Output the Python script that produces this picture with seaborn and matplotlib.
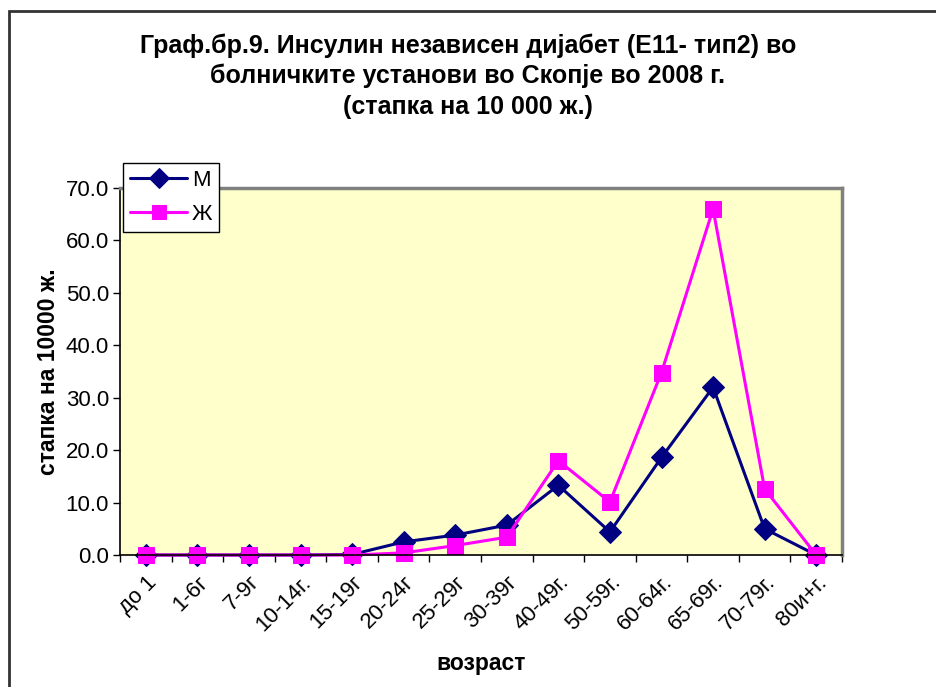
import matplotlib
matplotlib.use("Agg")
import matplotlib.pyplot as plt
from matplotlib.patches import Rectangle
from matplotlib.ticker import FixedLocator
import seaborn as sns
import pandas as pd

categories = ["до 1", "1-6г", "7-9г", "10-14г.", "15-19г", "20-24г", "25-29г",
              "30-39г", "40-49г.", "50-59г.", "60-64г.", "65-69г.", "70-79г.", "80и+г."]
male = [0.0, 0.0, 0.0, 0.0, 0.1, 2.5, 3.8, 5.7, 13.3, 4.4, 18.6, 32.0, 5.0, 0.0]
female = [0.0, 0.0, 0.0, 0.0, 0.0, 0.4, 1.8, 3.4, 18.0, 10.1, 34.8, 66.0, 12.6, 0.0]
series_names = ["М", "Ж"]
yticks = [0, 10, 20, 30, 40, 50, 60, 70]

df = pd.DataFrame({"age": categories * 2,
                   "val": male + female,
                   "sex": [series_names[0]] * len(categories) + [series_names[1]] * len(categories)})

sns.set_theme(style="white")
plt.rcParams["font.family"] = ["Liberation Sans", "DejaVu Sans"]
plt.rcParams["text.color"] = "black"
plt.rcParams["axes.labelcolor"] = "black"
plt.rcParams["xtick.color"] = "black"
plt.rcParams["ytick.color"] = "black"

fig = plt.figure(figsize=(9.36, 6.87), dpi=100)
ax = fig.add_axes([120/936, 1-555/687, (842-120)/936, (555-188)/687])
ax.set_facecolor("#FFFFCC")

sns.lineplot(data=df[df.sex == series_names[0]], x="age", y="val", sort=False, ax=ax,
             color="#000080", marker="D", markersize=11, lw=2.2, label=series_names[0],
             markeredgecolor="#000080", clip_on=False)
sns.lineplot(data=df[df.sex == series_names[1]], x="age", y="val", sort=False, ax=ax,
             color="#FF00FF", marker="s", markersize=11, lw=2.2, label=series_names[1],
             markeredgecolor="#FF00FF", clip_on=False)

ax.set_xlim(-0.5, len(categories) - 0.5)
ax.set_ylim(0, 70)
ax.set_yticks(yticks)
ax.set_yticklabels([f"{v:.1f}" for v in yticks], fontsize=16)
ax.set_xticks(range(len(categories)))
ax.set_xticklabels(categories, rotation=45, ha="right", rotation_mode="anchor", fontsize=16)
ax.tick_params(axis="x", which="major", length=0, pad=12)
ax.xaxis.set_minor_locator(FixedLocator([i + 0.5 for i in range(-1, len(categories))]))
ax.tick_params(axis="x", which="minor", length=5, width=1, color="black", bottom=True, direction="out")
ax.tick_params(axis="y", which="major", length=5, width=1, color="black", left=True, direction="out", pad=3)

for s in ["top", "right"]:
    ax.spines[s].set_visible(True)
    ax.spines[s].set_color("#808080")
    ax.spines[s].set_linewidth(2.5)
for s in ["left", "bottom"]:
    ax.spines[s].set_color("black")
    ax.spines[s].set_linewidth(1.2)

ax.set_xlabel("возраст", fontsize=16.5, fontweight="bold", labelpad=12)
ax.set_ylabel("стапка на 10000 ж.", fontsize=16.5, fontweight="bold", labelpad=4)
ax.grid(False)

leg = ax.legend(loc="upper left", bbox_to_anchor=(123/936, 1-163/687),
                bbox_transform=fig.transFigure, frameon=True, fancybox=False,
                fontsize=16, handlelength=2.6, borderpad=0.3, labelspacing=0.6,
                handletextpad=0.2, borderaxespad=0, markerscale=0.9)
leg.get_frame().set_edgecolor("black")
leg.get_frame().set_linewidth(1)
leg.get_frame().set_facecolor("white")
leg.get_frame().set_alpha(1)

fig.text(0.5, 1-46/687, "Граф.бр.9. Инсулин независен дијабет (Е11- тип2) во",
         ha="center", va="center", fontsize=18, fontweight="bold")
fig.text(0.5, 1-76/687, "болничките установи во Скопје во 2008 г.",
         ha="center", va="center", fontsize=18, fontweight="bold")
fig.text(0.5, 1-107/687, "(стапка на 10 000 ж.)",
         ha="center", va="center", fontsize=18, fontweight="bold")

fig.add_artist(Rectangle((9/936, -0.1), 1.2, 1 - 11/687 + 0.1, fill=False,
                         edgecolor="#333333", lw=2, transform=fig.transFigure))

fig.savefig("out.png", dpi=100)
